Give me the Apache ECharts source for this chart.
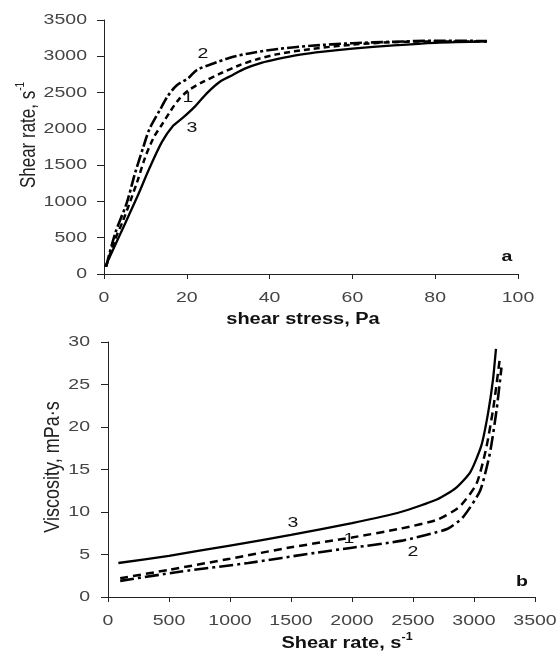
<!DOCTYPE html>
<html><head><meta charset="utf-8">
<script src="https://cdn.jsdelivr.net/npm/echarts@6/dist/echarts.min.js"></script>
<style>html,body{margin:0;padding:0;background:#fff}#c{width:557px;height:652px}</style>
</head><body><div id="c"></div>
<script>
// ---- tick labels ----
const topXTicks = [0, 20, 40, 60, 80, 100];
const topYTicks = [0, 500, 1000, 1500, 2000, 2500, 3000, 3500];
const botXTicks = [0, 500, 1000, 1500, 2000, 2500, 3000, 3500];
const botYTicks = [0, 5, 10, 15, 20, 25, 30];

// ---- panel a: shear stress (Pa) vs shear rate (1/s) ----
const a1Stress = [0.5, 2.5, 4.7, 7.9, 9.9, 12, 14, 16, 18, 20.4, 24, 28, 32.4, 37, 42, 50, 60, 70, 80, 92.5];
const a1Rate   = [100, 450, 750, 1250, 1600, 1880, 2060, 2240, 2400, 2530, 2650, 2760, 2870, 2960, 3030, 3100, 3160, 3195, 3205, 3205];
const a2Stress = [0.5, 2.7, 5.5, 7.5, 9.5, 11, 13.5, 15.5, 17.6, 20.4, 22.4, 26.4, 31, 36, 42, 50, 60, 70, 80, 92.5];
const a2Rate   = [100, 560, 980, 1390, 1750, 2000, 2260, 2460, 2600, 2700, 2810, 2900, 2990, 3050, 3100, 3145, 3180, 3200, 3215, 3210];
const a3Stress = [0.3, 4, 8, 11, 14, 16.5, 19, 22, 25, 28, 31, 34, 38, 42, 47, 53, 60, 70, 80, 92.5];
const a3Rate   = [100, 560, 1060, 1460, 1820, 2030, 2150, 2310, 2500, 2650, 2740, 2830, 2910, 2965, 3020, 3065, 3105, 3150, 3185, 3205];

// ---- panel b: shear rate (1/s) vs viscosity (mPa·s) ----
const b1Rate = [100, 500, 1000, 1500, 2000, 2400, 2700, 2880, 3020, 3100, 3160, 3213];
const b1Visc = [2.2, 3.2, 4.5, 5.85, 7.0, 8.05, 9.1, 10.6, 13.3, 17.5, 22.4, 28.2];
const b2Rate = [100, 600, 1150, 1700, 2000, 2400, 2780, 2910, 3050, 3130, 3185, 3225];
const b2Visc = [1.9, 3.0, 4.0, 5.2, 5.8, 6.6, 8.0, 9.4, 12.5, 16.9, 22, 27];
const b3Rate = [85, 500, 1000, 1500, 2000, 2400, 2700, 2850, 2970, 3060, 3115, 3155, 3180];
const b3Visc = [4.0, 4.85, 6.05, 7.3, 8.7, 10.0, 11.5, 12.8, 14.7, 17.8, 21.6, 25.5, 29.2];

const FONT = '"Liberation Sans", Arial, sans-serif';
const zip = (xs, ys) => xs.map((x, i) => [x, ys[i]]);

const STYLE = {
  a1: { type: [6, 4], width: 2.5 },
  a2: { type: [12, 3, 3, 3], width: 2.6 },
  a3: { type: 'solid', width: 2.3 },
  b1: { type: [8, 5], width: 2.5 },
  b2: { type: [14, 4, 3, 4], width: 2.6 },
  b3: { type: 'solid', width: 2.3 }
};
function ser(key, gi, xs, ys, smooth) {
  return {
    type: 'line', name: key.slice(1), xAxisIndex: gi, yAxisIndex: gi,
    data: zip(xs, ys), showSymbol: false, symbol: 'none',
    smooth: smooth,
    lineStyle: Object.assign({ color: '#000', cap: 'butt' }, STYLE[key]),
    animation: false, silent: true
  };
}
function axis(min, max, interval, tickLen) {
  return {
    type: 'value', min: min, max: max, interval: interval,
    axisLine: { show: true, onZero: false, lineStyle: { color: '#222', width: 1 } },
    axisTick: { show: true, length: tickLen, lineStyle: { color: '#222', width: 1 } },
    axisLabel: { show: false }, splitLine: { show: false }
  };
}

const chart = echarts.init(document.getElementById('c'), null, { renderer: 'canvas', width: 557, height: 652 });
chart.setOption({
  backgroundColor: '#fff',
  animation: false,
  grid: [
    { left: 104, top: 20, width: 414, height: 254, containLabel: false, outerBoundsMode: 'none' },
    { left: 108, top: 342, width: 427, height: 255, containLabel: false, outerBoundsMode: 'none' }
  ],
  xAxis: [
    Object.assign(axis(0, 100, 20, 5), { gridIndex: 0 }),
    Object.assign(axis(0, 3500, 500, 5), { gridIndex: 1 })
  ],
  yAxis: [
    Object.assign(axis(0, 3500, 500, 7), { gridIndex: 0 }),
    Object.assign(axis(0, 30, 5, 7), { gridIndex: 1 })
  ],
  series: [
    ser('a1', 0, a1Stress, a1Rate, 0.3),
    ser('a2', 0, a2Stress, a2Rate, 0.3),
    ser('a3', 0, a3Stress, a3Rate, 0.3),
    ser('b1', 1, b1Rate, b1Visc, 0.2),
    ser('b2', 1, b2Rate, b2Visc, 0.2),
    ser('b3', 1, b3Rate, b3Visc, 0.2)
  ]
});

// text is horizontally stretched in the reference
const SX = 1.3;
function txt(x, y, text, o) {
  o = o || {};
  const el = {
    type: 'text', x: x, y: y, silent: true, z: 10,
    scaleX: o.rot ? 1 : (o.sx || SX), scaleY: o.rot ? (o.sx || SX) : 1,
    rotation: o.rot ? Math.PI / 2 : 0,
    style: {
      text: text,
      fontFamily: FONT, fontSize: o.size || 15, fontWeight: o.bold ? 'bold' : 'normal',
      fill: o.color || '#444',
      align: o.align || 'center', textAlign: o.align || 'center',
      verticalAlign: 'middle', textVerticalAlign: 'middle'
    }
  };
  if (o.rich) el.style.rich = o.rich;
  return el;
}
const supRich = (size, weight) => ({
  b: { fontFamily: FONT, fontSize: size, fontWeight: weight, lineHeight: size + 4, verticalAlign: 'bottom' },
  sup: { fontFamily: FONT, fontSize: Math.round(size * 0.6), fontWeight: weight, lineHeight: size + 4, verticalAlign: 'top' }
});

const g = [];
topXTicks.forEach(v => { const p = chart.convertToPixel({ gridIndex: 0 }, [v, 0]); g.push(txt(p[0], p[1] + 24, String(v))); });
topYTicks.forEach(v => { const p = chart.convertToPixel({ gridIndex: 0 }, [0, v]); g.push(txt(p[0] - 17, p[1], String(v), { align: 'right' })); });
botXTicks.forEach(v => { const p = chart.convertToPixel({ gridIndex: 1 }, [v, 0]); g.push(txt(p[0], p[1] + 24, String(v))); });
botYTicks.forEach(v => { const p = chart.convertToPixel({ gridIndex: 1 }, [0, v]); g.push(txt(p[0] - 18, p[1], String(v), { align: 'right' })); });

// axis titles
g.push(txt(303, 320, 'shear stress, Pa', { bold: true, size: 16, sx: 1.25, color: '#111' }));
g.push(txt(347, 642, '{b|Shear rate, s}{sup|-1}', { bold: true, size: 16, sx: 1.25, color: '#111', rich: supRich(16, 'bold') }));
g.push(txt(27, 135, '{b|Shear rate, s}{sup|-1}', { rot: true, size: 17, sx: 1.25, color: '#222', rich: supRich(17, 'normal') }));
g.push(txt(53, 467, 'Viscosity, mPa·s', { rot: true, size: 18, sx: 1.25, color: '#222' }));

// curve and panel labels
g.push(txt(203, 54, '2', { color: '#111' }));
g.push(txt(188, 98, '1', { color: '#111' }));
g.push(txt(192, 128, '3', { color: '#111' }));
g.push(txt(293, 523, '3', { color: '#111' }));
g.push(txt(349, 539, '1', { color: '#111' }));
g.push(txt(413, 552, '2', { color: '#111' }));
g.push(txt(507, 257, 'a', { bold: true, color: '#111' }));
g.push(txt(522, 582, 'b', { bold: true, color: '#111' }));

chart.setOption({ graphic: g });
</script>
</body></html>
